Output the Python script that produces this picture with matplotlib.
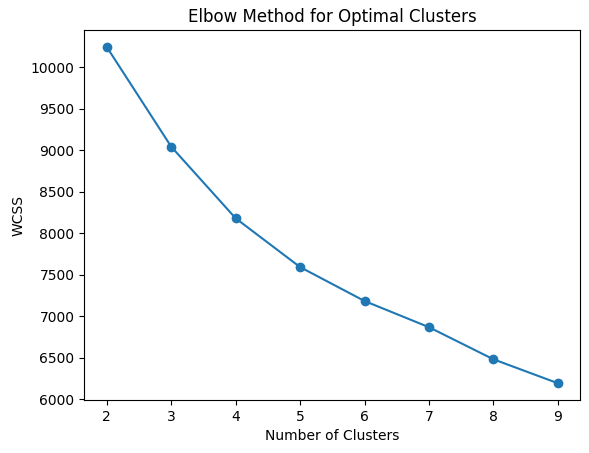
import matplotlib
matplotlib.use("Agg")
import matplotlib.pyplot as plt

clusters = [2, 3, 4, 5, 6, 7, 8, 9]
wcss = [10240, 9041, 8180, 7593, 7185, 6870, 6484, 6196]

W, H = 589, 453
fig = plt.figure(figsize=(W / 100, H / 100), dpi=100)
left, right, top, bottom = 84.3, 580.3, 30.3, 400.0
ax = fig.add_axes([left / W, (H - bottom) / H, (right - left) / W, (bottom - top) / H])
ax.plot(clusters, wcss, marker='o')
ax.set_title('Elbow Method for Optimal Clusters')
ax.set_xlabel('Number of Clusters')
ax.set_ylabel('WCSS')
fig.savefig('out.png', dpi=100)
